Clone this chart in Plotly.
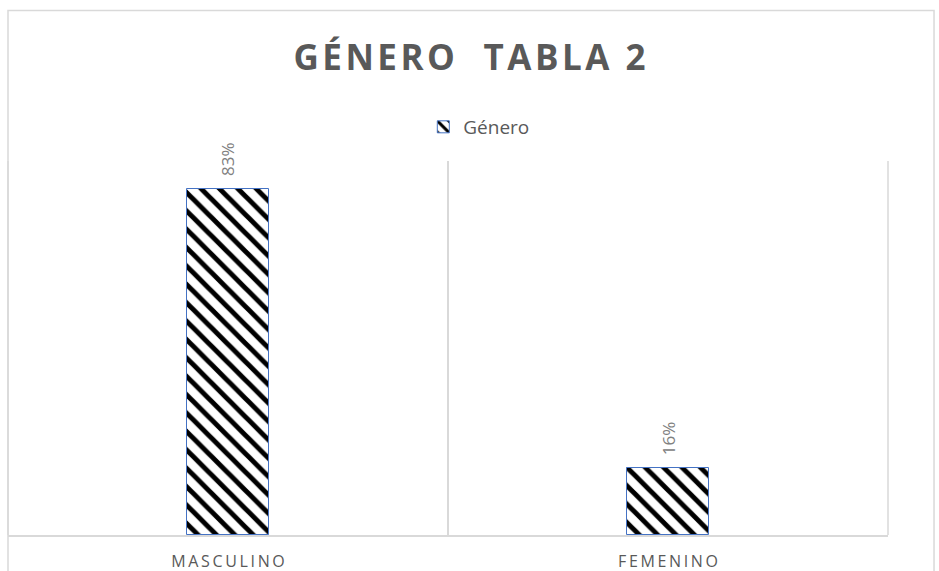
import plotly.graph_objects as go

# Datos de la gráfica
categorias = ["MASCULINO", "FEMENINO"]
valores = [0.83, 0.16]
serie = "Género"
titulo = "GÉNERO  TABLA 2"

GRIS_TEXTO = "#595959"
GRIS_ETIQUETA = "#808080"
GRIS_LINEA = "#d9d9d9"
AZUL = "#4472C4"


def espaciar(texto, sep="\u2009"):
    """Separa las letras para imitar el espaciado de caracteres."""
    return sep.join(list(texto))


fig = go.Figure()
fig.add_trace(go.Bar(
    x=categorias,
    y=valores,
    name=serie,
    width=0.186,
    marker=dict(
        color="white",
        line=dict(color=AZUL, width=1),
        pattern=dict(shape="\\", fgcolor="black", bgcolor="white",
                     size=13, solidity=0.38, fillmode="replace"),
    ),
    showlegend=True,
    hoverinfo="skip",
))

# Etiquetas de datos verticales sobre cada barra
for cat, val in zip(categorias, valores):
    fig.add_annotation(
        x=cat, y=val, xref="x", yref="y",
        text=f"{val:.0%}", textangle=-90,
        showarrow=False, yanchor="bottom", yshift=11,
        font=dict(family="Open Sans", size=17, color=GRIS_ETIQUETA),
    )

# Borde del área del gráfico
fig.add_shape(
    type="rect", xref="paper", yref="paper",
    x0=0.0, x1=1.0523, y0=-0.2, y1=1.4024,
    line=dict(color=GRIS_LINEA, width=1.5), fillcolor="rgba(0,0,0,0)",
    layer="below",
)
# Líneas de división en los extremos de las categorías
for xp in (0.0, 1.0):
    fig.add_shape(
        type="line", xref="paper", yref="paper",
        x0=xp, x1=xp, y0=0, y1=1,
        line=dict(color=GRIS_LINEA, width=1.5), layer="below",
    )

fig.update_layout(
    width=939, height=571,
    margin=dict(l=8, r=51, t=161, b=36, autoexpand=False),
    paper_bgcolor="white", plot_bgcolor="white",
    title=dict(
        text=espaciar(titulo, "\u200a"), x=0.5, y=0.898,
        xanchor="center", yanchor="middle",
        xref="container", yref="container",
        font=dict(family="Open Sans", size=35, color=GRIS_TEXTO, weight="bold"),
    ),
    legend=dict(
        orientation="h", x=0.535, xanchor="center", y=1.091, yanchor="middle",
        font=dict(family="Open Sans", size=19, color=GRIS_TEXTO),
        bgcolor="rgba(0,0,0,0)",
    ),
    xaxis=dict(
        type="category",
        tickmode="array", tickvals=categorias,
        ticktext=[espaciar(c) for c in categorias],
        tickson="boundaries", ticks="",
        showgrid=True, gridcolor=GRIS_LINEA, gridwidth=1.5,
        showline=True, linecolor=GRIS_LINEA, linewidth=1.5,
        tickfont=dict(family="Open Sans", size=16, color=GRIS_TEXTO),
        ticklabelstandoff=11,
        range=[-0.5, 1.5],
        fixedrange=True,
    ),
    yaxis=dict(
        range=[0, 0.897], showgrid=False, zeroline=False,
        showticklabels=False, showline=False, fixedrange=True,
    ),
    bargap=0.0,
)

fig.write_html("out.html")
